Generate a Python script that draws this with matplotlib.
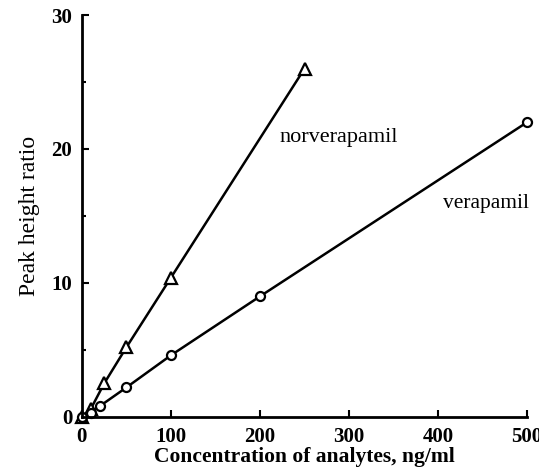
import matplotlib.pyplot as plt

# calibration data
norv_x = [0, 10, 25, 50, 100, 250]
norv_y = [0, 0.6, 2.5, 5.2, 10.4, 26.0]
vera_x = [0, 10, 20, 50, 100, 200, 500]
vera_y = [0, 0.3, 0.8, 2.2, 4.6, 9.0, 22.0]

x_ticks = [0, 100, 200, 300, 400, 500]
y_ticks = [0, 10, 20, 30]

plt.rcParams['font.family'] = ['Liberation Serif', 'DejaVu Serif']

fig = plt.figure(figsize=(5.39, 4.70), dpi=100)
ax = fig.add_axes([0.152, 0.113, 0.826, 0.855])

ax.plot(norv_x, norv_y, color='black', lw=1.8, marker='^', ms=9,
        mfc='white', mec='black', mew=1.6, clip_on=False)
ax.plot(vera_x, vera_y, color='black', lw=1.8, marker='o', ms=6.5,
        mfc='white', mec='black', mew=1.6, clip_on=False)

ax.text(222, 20.5, 'norverapamil', fontsize=16, va='baseline')
ax.text(405, 15.6, 'verapamil', fontsize=15.5, va='baseline')

ax.set_xlim(0, 500)
ax.set_ylim(0, 30)
ax.set_xticks(x_ticks)
ax.set_yticks(y_ticks)
ax.set_yticks([5, 15, 25], minor=True)

for s in ['top', 'right']:
    ax.spines[s].set_visible(False)
for s in ['left', 'bottom']:
    ax.spines[s].set_linewidth(2)

ax.tick_params(direction='in', length=5, width=1.5, pad=7)
ax.tick_params(which='minor', direction='in', length=3, width=1.5, left=True)
for lab in ax.get_xticklabels() + ax.get_yticklabels():
    lab.set_fontsize(15)
    lab.set_fontweight('bold')

ax.set_xlabel('Concentration of analytes, ng/ml', fontsize=15.5,
              fontweight='bold', labelpad=0)
ax.set_ylabel('Peak height ratio', fontsize=17, labelpad=8)

fig.savefig('out.png', dpi=100)
